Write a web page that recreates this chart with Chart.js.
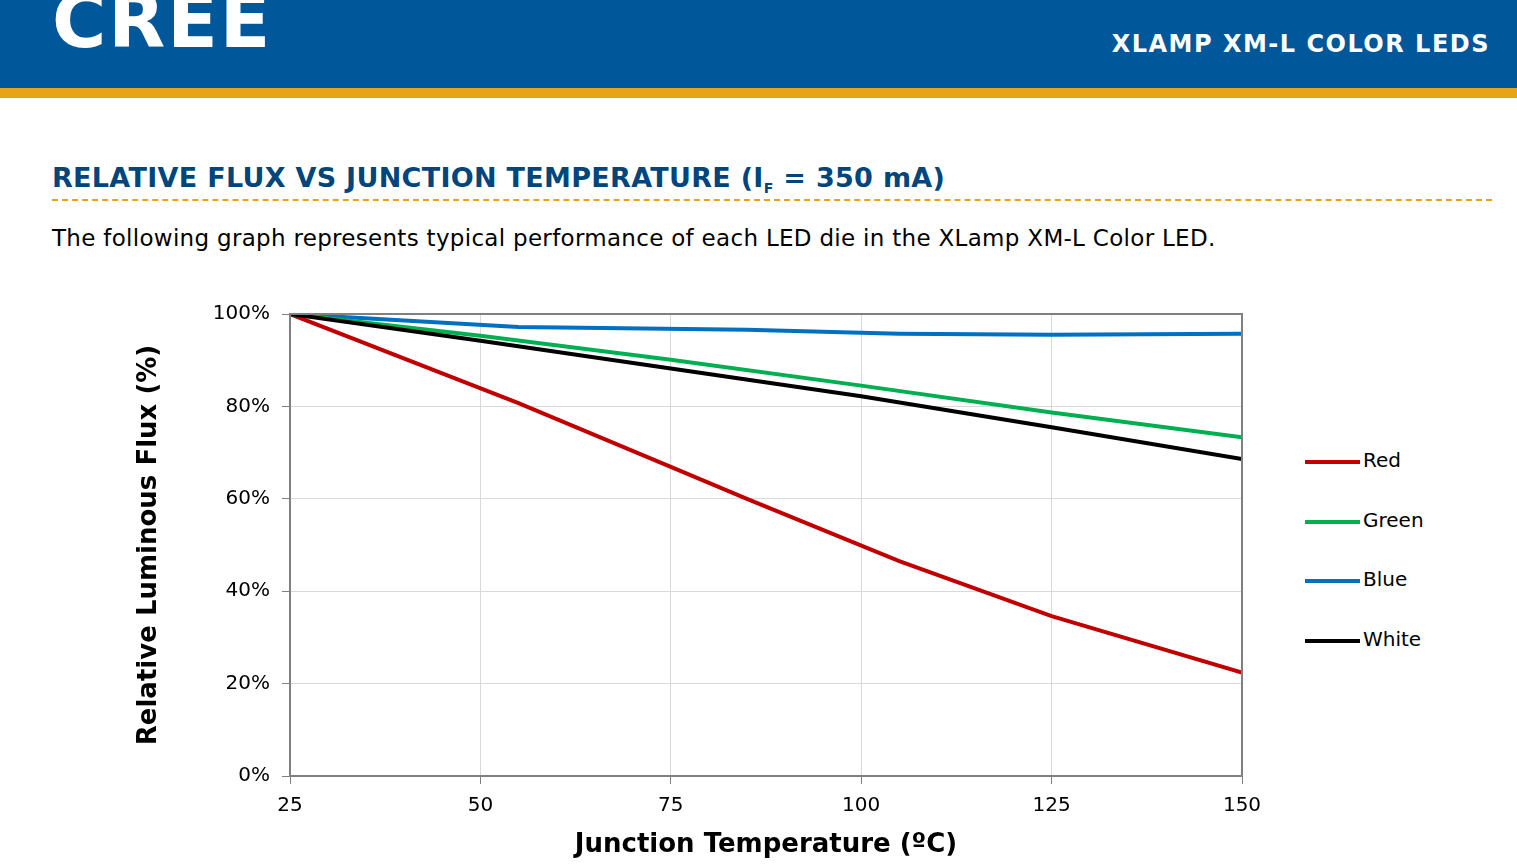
<!DOCTYPE html>
<html><head><meta charset="utf-8">
<script src="https://cdn.jsdelivr.net/npm/chart.js@4"></script>
<style>
body{margin:0;width:1517px;height:865px;overflow:hidden;background:#fff;font-family:Verdana,"DejaVu Sans",sans-serif;position:relative}
#hdr{position:absolute;left:0;top:0;width:1517px;height:88px;background:#00579a}
#gold{position:absolute;left:0;top:88px;width:1517px;height:10px;background:#e8a317}
#logo{position:absolute;left:52px;top:-22px;font:bold 74px "DejaVu Sans";color:#fff;letter-spacing:2px}
#prod{position:absolute;right:27px;top:30px;color:#fff;font:bold 24px "DejaVu Sans";letter-spacing:1.5px}
#title{position:absolute;left:52px;top:162px;color:#00457c;font:bold 27px "DejaVu Sans";letter-spacing:.3px}
#dash{position:absolute;left:52px;top:199px;width:1440px;border-top:2px dashed #e8a317}
#sub{position:absolute;left:52px;top:225px;font:23px "DejaVu Sans";color:#000;letter-spacing:.3px}
#wrap{position:absolute;left:130px;top:290px;width:1160px;height:575px}
.lg{position:absolute;left:1305px;font:20px "DejaVu Sans";color:#000}
.lg span{display:inline-block;width:55px;height:4px;vertical-align:middle;margin-right:3px}
</style></head><body>
<div id="hdr"></div><div id="gold"></div>
<div id="logo">CREE</div>
<div id="prod">XLAMP XM-L COLOR LEDS</div>
<div id="title">RELATIVE FLUX VS JUNCTION TEMPERATURE (I<sub style="font-size:14px">F</sub> = 350 mA)</div>
<div id="dash"></div>
<div id="sub">The following graph represents typical performance of each LED die in the XLamp XM-L Color LED.</div>
<div id="wrap"><canvas id="c"></canvas></div>
<div class="lg" style="top:448px"><span style="background:#c00000"></span>Red</div>
<div class="lg" style="top:508px"><span style="background:#00b050"></span>Green</div>
<div class="lg" style="top:567px"><span style="background:#0070c0"></span>Blue</div>
<div class="lg" style="top:627px"><span style="background:#000"></span>White</div>
<script>
const temps = [25, 55, 75, 85, 105, 125, 150];
const redFlux = [100, 80.7, 66.9, 60, 46.5, 34.6, 22.4];
const tempsG = [25, 50, 75, 100, 125, 150];
const greenFlux = [100, 95.3, 90.1, 84.5, 78.7, 73.3];
const whiteFlux = [100, 94.2, 88.2, 82.2, 75.5, 68.6];
const tempsB = [25, 55, 85, 105, 125, 150];
const blueFlux = [100, 97.2, 96.6, 95.7, 95.5, 95.7];
const xTicks = [25, 50, 75, 100, 125, 150];

const pts = (xs, ys) => xs.map((x, i) => ({x, y: ys[i]}));
const ds = (label, data, color) => ({label, data, borderColor: color, borderWidth: 4, pointRadius: 0, tension: 0, fill: false});

new Chart(document.getElementById('c'), {
  type: 'line',
  data: {datasets: [
    ds('White', pts(tempsG, whiteFlux), '#000000'),
    ds('Green', pts(tempsG, greenFlux), '#00b050'),
    ds('Blue', pts(tempsB, blueFlux), '#0070c0'),
    ds('Red', pts(temps, redFlux), '#c00000')
  ]},
  options: {
    responsive: true, maintainAspectRatio: false, animation: false,
    layout: {padding: {top: 9, right: 48}},
    plugins: {legend: {display: false}, tooltip: {enabled: false}},
    scales: {
      x: {type: 'linear', min: 25, max: 150,
        afterBuildTicks: a => { a.ticks = xTicks.map(v => ({value: v})); },
        afterFit: a => { a.height = 89; },
        grid: {color: '#d9d9d9', tickLength: 8, tickColor: '#808080'},
        border: {color: '#808080', width: 2},
        ticks: {color: '#000', font: {size: 20, family: 'DejaVu Sans'}, padding: 10},
        title: {display: true, text: 'Junction Temperature (ºC)', color: '#000', font: {size: 26, weight: 'bold', family: 'DejaVu Sans'}, padding: {top: 2}}
      },
      y: {min: 0, max: 100,
        afterFit: a => { a.width = 160; },
        grid: {color: '#d9d9d9', tickLength: 8, tickColor: '#808080'},
        border: {color: '#808080', width: 2},
        ticks: {stepSize: 20, callback: v => v + '%', color: '#000', font: {size: 20, family: 'DejaVu Sans'}, padding: 12},
        title: {display: true, text: 'Relative Luminous Flux (%)', color: '#000', font: {size: 26, weight: 'bold', family: 'DejaVu Sans'}, padding: {bottom: -4}}
      }
    }
  },
  plugins: [{id: 'frame', afterDraw(c) {
    const {ctx, chartArea: a} = c;
    ctx.save(); ctx.strokeStyle = '#808080'; ctx.lineWidth = 2;
    ctx.strokeRect(a.left, a.top, a.right - a.left, a.bottom - a.top); ctx.restore();
  }}]
});
</script>
</body></html>
